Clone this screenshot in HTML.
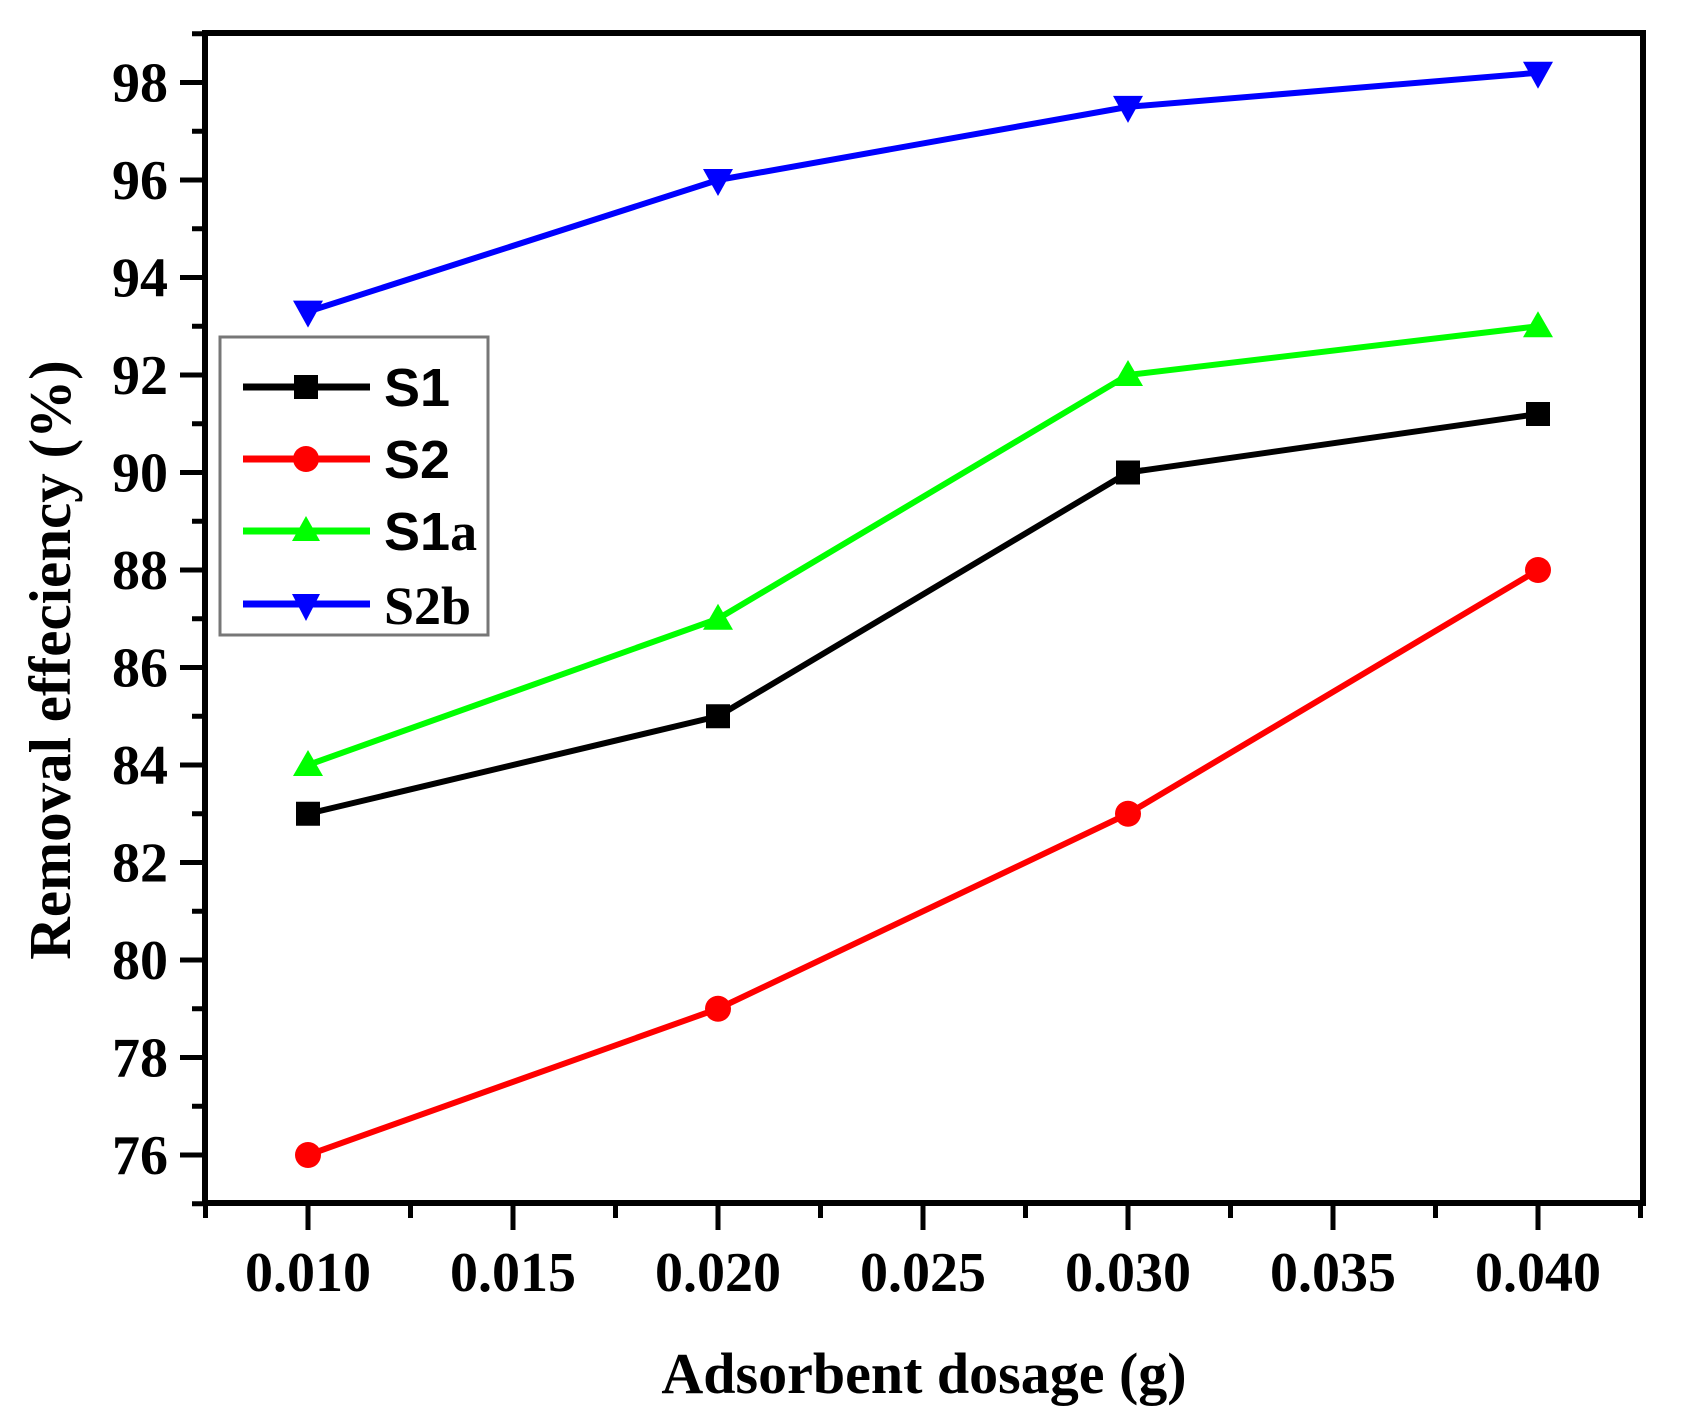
<!DOCTYPE html>
<html><head><style>html,body{margin:0;padding:0;background:#fff}svg{display:block}</style></head>
<body>
<svg width="1684" height="1423" xmlns="http://www.w3.org/2000/svg">
<rect width="1684" height="1423" fill="#fff"/>
<g id="ticks" stroke="#000" stroke-width="5"></g>
<rect x="205" y="33" width="1438" height="1170" fill="none" stroke="#000" stroke-width="6"/>
<g font-family="'Liberation Serif',serif" font-weight="bold" font-size="56" fill="#000" id="labels"></g>
<g id="series"></g>
<rect x="220" y="337" width="268" height="298" fill="#fff" stroke="#777" stroke-width="3"/>
<g stroke-width="7">
<line x1="243" y1="387" x2="370" y2="387" stroke="#000"/>
<line x1="243" y1="459" x2="370" y2="459" stroke="#f00"/>
<line x1="243" y1="531" x2="370" y2="531" stroke="#0f0"/>
<line x1="243" y1="604" x2="370" y2="604" stroke="#00f"/>
</g>
<rect x="294" y="375" width="24" height="24" fill="#000"/>
<circle cx="306" cy="459" r="13" fill="#f00"/>
<polygon points="306,516 292,541 320,541" fill="#0f0"/>
<polygon points="292,594 320,594 306,621" fill="#00f"/>
<g font-weight="bold" font-size="54" fill="#000">
<text x="384" y="406" font-family="'Liberation Sans',sans-serif">S1</text>
<text x="384" y="478" font-family="'Liberation Sans',sans-serif">S2</text>
<text x="384" y="550"><tspan font-family="'Liberation Sans',sans-serif">S1</tspan><tspan font-family="'Liberation Serif',serif">a</tspan></text>
<text x="384" y="624" font-family="'Liberation Serif',serif">S2b</text>
</g>
<text x="924" y="1393" text-anchor="middle" font-family="'Liberation Serif',serif" font-weight="bold" font-size="58">Adsorbent dosage (g)</text>
<text transform="translate(70,660) rotate(-90)" text-anchor="middle" font-family="'Liberation Serif',serif" font-weight="bold" font-size="59">Removal effeciency (%)</text>
<script>
var ns="http://www.w3.org/2000/svg";
function yv(v){return 1155-(v-76)*48.75}
function xd(d){return 308+(d-0.01)*41000}
function el(p,t,a){var e=document.createElementNS(ns,t);for(var k in a)e.setAttribute(k,a[k]);p.appendChild(e);return e}
var tk=document.getElementById('ticks'),lb=document.getElementById('labels');
for(var v=75;v<=99;v++){var y=yv(v);var maj=(v%2==0);el(tk,'line',{x1:maj?180:192,y1:y,x2:205,y2:y});
 if(maj&&v>=76&&v<=98){var t=el(lb,'text',{x:168,y:y+19,'text-anchor':'end'});t.textContent=v;}}
for(var i=-1;i<=13;i++){var d=0.01+i*0.0025;var x=xd(d);if(x<205||x>1643)continue;var maj=(i%2==0);
 el(tk,'line',{x1:x,y1:1203,x2:x,y2:maj?1230:1218});
 if(maj){var t=el(lb,'text',{x:x,y:1291,'text-anchor':'middle'});t.textContent=d.toFixed(3);}}
var xs=[0.01,0.02,0.03,0.04];
var S=[{c:'#000',v:[83,85,90,91.2],m:'s'},{c:'#f00',v:[76,79,83,88],m:'c'},{c:'#0f0',v:[84,87,92,93],m:'u'},{c:'#00f',v:[93.3,96,97.5,98.2],m:'d'}];
var sg=document.getElementById('series');
S.forEach(function(s){var pts=xs.map(function(d,i){return xd(d)+','+yv(s.v[i])}).join(' ');
 el(sg,'polyline',{points:pts,fill:'none',stroke:s.c,'stroke-width':6,'stroke-linejoin':'round'});});
S.forEach(function(s){xs.forEach(function(d,i){var x=xd(d),y=yv(s.v[i]);
 if(s.m=='s')el(sg,'rect',{x:x-12,y:y-12,width:24,height:24,fill:s.c});
 else if(s.m=='c')el(sg,'circle',{cx:x,cy:y,r:13,fill:s.c});
 else if(s.m=='u')el(sg,'polygon',{points:(x)+','+(y-15)+' '+(x-15)+','+(y+11)+' '+(x+15)+','+(y+11),fill:s.c});
 else el(sg,'polygon',{points:(x-15)+','+(y-11)+' '+(x+15)+','+(y-11)+' '+x+','+(y+16),fill:s.c});});});
</script>
</svg>
</body></html>
